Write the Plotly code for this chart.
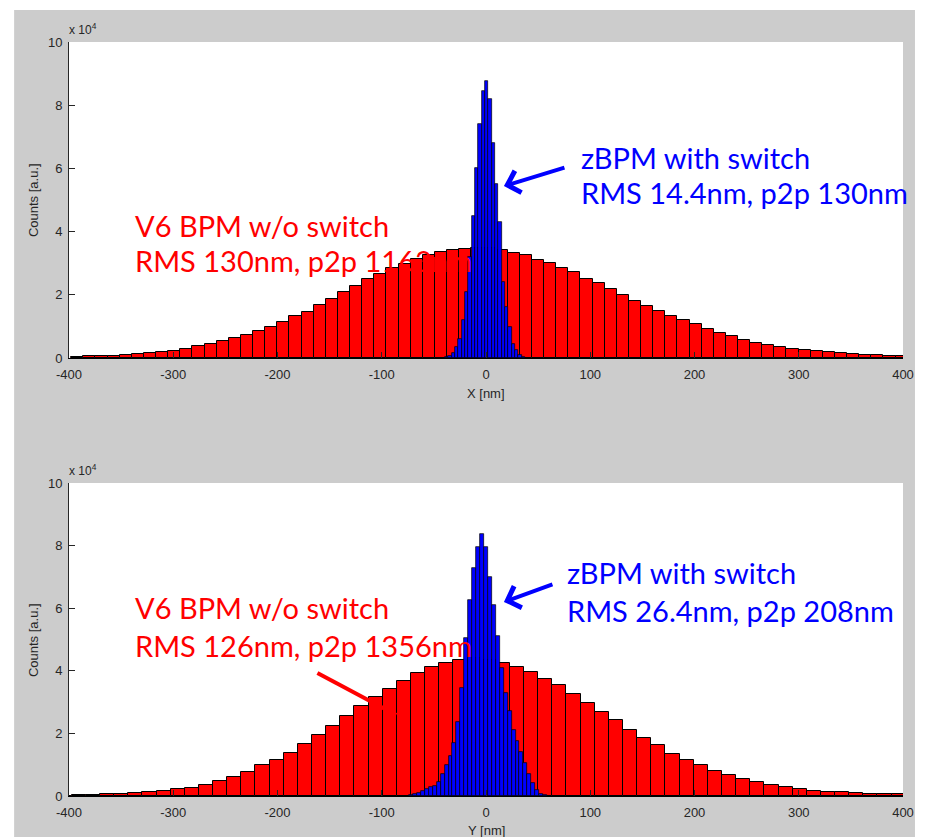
import plotly.graph_objects as go

# ---------------- data ----------------
# Top panel (X): V6 BPM red histogram, bin width 11.63 nm, first bin starts at -397.9 nm
red_x_start = -397.93
red_x_width = 11.63
red_x_counts = [200, 500, 500, 600, 850, 1150, 1570, 1900, 2200, 2940, 3670, 4300, 5240, 6290,
                7230, 8600, 9800, 11500, 13200, 14600, 16900, 18600, 21000, 22700, 25000, 26700,
                28500, 29600, 31400, 32700, 33400, 34300, 34600, 34800, 34700, 34300, 33200,
                32500, 31100, 30000, 28500, 27100, 25100, 23700, 21700, 19800, 17900, 16400,
                14800, 13300, 11900, 10700, 9300, 7900, 7000, 5800, 4850, 4200, 3500, 2700,
                2400, 2100, 1800, 1500, 1270, 840, 840, 530, 500]

# Top panel (X): zBPM blue histogram, bin width 3.2 nm
blue_x_start = -39.36
blue_x_width = 3.2
blue_x_counts = [300, 700, 1500, 3500, 6000, 12000, 21000, 32000, 45000, 60000, 74000, 84500,
                 87600, 82000, 68000, 55000, 43000, 24000, 16000, 9800, 4500, 2400, 800, 200]

# Bottom panel (Y): V6 BPM red histogram, bin width 13.56 nm
red_y_start = -410.98
red_y_width = 13.56
red_y_counts = [100, 250, 250, 640, 640, 850, 1280, 1600, 2240, 2560, 3600, 4650, 6100, 7800,
                9800, 11500, 13800, 16600, 19400, 22400, 25600, 28800, 31600, 34300, 36700,
                39400, 41100, 42400, 43500, 44000, 43600, 42400, 41300, 39700, 37500, 35400,
                32700, 29800, 26900, 24200, 21100, 18600, 16200, 13500, 11500, 9800, 8000,
                6600, 5400, 4500, 3500, 2800, 2100, 1700, 1400, 1200, 1100, 750, 750, 530]

# Bottom panel (Y): zBPM blue histogram, bin width 3.78 nm
blue_y_start = -77.51
blue_y_width = 3.78
blue_y_counts = [100, 300, 500, 1000, 1500, 2200, 2900, 3300, 4400, 7000, 9800, 12900, 16900,
                 23500, 34500, 50500, 62700, 72800, 79600, 83700, 79600, 70000, 61000, 51000,
                 41000, 33000, 27000, 21000, 17500, 14000, 10500, 7000, 4000, 2000, 800, 200]

x_ticks = [-400, -300, -200, -100, 0, 100, 200, 300, 400]
x_tick_text = ["-400", "-300", "-200", "-100", "0", "100", "200", "300", "400"]
y_ticks = [0, 20000, 40000, 60000, 80000, 100000]
y_tick_text = ["0", "2", "4", "6", "8", "10"]


def centers(start, width, n):
    return [start + width * (i + 0.5) for i in range(n)]


RED = "#ff0000"
BLUE = "#0000ff"
TXT = "#262626"
TICKFONT = dict(family="Liberation Sans, Arial, sans-serif", size=13, color=TXT)
ANNFONT = "Lato, Calibri, sans-serif"

fig = go.Figure()

fig.add_trace(go.Bar(x=centers(red_x_start, red_x_width, len(red_x_counts)), y=red_x_counts,
                     width=red_x_width, marker=dict(color=RED, line=dict(color="black", width=1)),
                     xaxis="x", yaxis="y", showlegend=False))
fig.add_trace(go.Bar(x=centers(blue_x_start, blue_x_width, len(blue_x_counts)), y=blue_x_counts,
                     width=blue_x_width, marker=dict(color=BLUE, line=dict(color="black", width=0.7)),
                     xaxis="x", yaxis="y", showlegend=False))
fig.add_trace(go.Bar(x=centers(red_y_start, red_y_width, len(red_y_counts)), y=red_y_counts,
                     width=red_y_width, marker=dict(color=RED, line=dict(color="black", width=1)),
                     xaxis="x2", yaxis="y2", showlegend=False))
fig.add_trace(go.Bar(x=centers(blue_y_start, blue_y_width, len(blue_y_counts)), y=blue_y_counts,
                     width=blue_y_width, marker=dict(color=BLUE, line=dict(color="black", width=0.7)),
                     xaxis="x2", yaxis="y2", showlegend=False))

xcommon = dict(range=[-400, 400], tickvals=x_ticks, ticktext=x_tick_text, ticks="inside",
               ticklen=6, tickcolor=TXT, showline=True, linecolor="black", linewidth=1,
               showgrid=False, zeroline=False, tickfont=TICKFONT, ticklabelstandoff=4,
               fixedrange=True)
ycommon = dict(range=[0, 100000], tickvals=y_ticks, ticktext=y_tick_text, ticks="inside",
               ticklen=6, tickcolor=TXT, showline=True, linecolor=TXT, linewidth=1,
               showgrid=False, zeroline=False, tickfont=TICKFONT, ticklabelstandoff=3,
               fixedrange=True)

# The page body has an 8px margin, so the figure starts at page (8, 8).
OFF = 8
W, H = 926 - OFF, 837 - OFF
L, R, T, B = 69 - OFF, 926 - 905, 42 - OFF, 837 - 796


def py(p):  # page pixel y -> paper y
    return (796 - p) / (796 - 42)


def px(p):  # page pixel x -> paper x
    return (p - 69) / (905 - 69)


fig.update_layout(
    width=W, height=H, autosize=False,
    margin=dict(l=L, r=R, t=T, b=B, pad=0),
    paper_bgcolor="#cccccc", plot_bgcolor="white",
    barmode="overlay", bargap=0,
    xaxis=dict(domain=[0, 1], anchor="y", **xcommon),
    yaxis=dict(domain=[py(358), 1], anchor="x", **ycommon),
    xaxis2=dict(domain=[0, 1], anchor="y2", **xcommon),
    yaxis2=dict(domain=[0, py(483)], anchor="x2", **ycommon),
)

ann = []
ann.append(dict(text="X [nm]", xref="paper", yref="paper", x=px(487), y=py(393),
                xanchor="center", yanchor="middle", showarrow=False, font=TICKFONT))
ann.append(dict(text="Y [nm]", xref="paper", yref="paper", x=px(487), y=py(830),
                xanchor="center", yanchor="middle", showarrow=False, font=TICKFONT))
ann.append(dict(text="Counts [a.u.]", xref="paper", yref="paper", x=px(33), y=py(200),
                xanchor="center", yanchor="middle", textangle=-90, showarrow=False, font=TICKFONT))
ann.append(dict(text="Counts [a.u.]", xref="paper", yref="paper", x=px(33), y=py(640),
                xanchor="center", yanchor="middle", textangle=-90, showarrow=False, font=TICKFONT))
# x 10^4 exponent labels
for ytop in (39, 480):
    ann.append(dict(text="x 10<sup>4</sup>", xref="paper", yref="paper", x=px(67), y=py(ytop),
                    xanchor="left", yanchor="bottom", showarrow=False,
                    font=dict(family=TICKFONT["family"], size=12, color=TXT)))

# text labels
labels = [
    ("zBPM with switch", 583, 157, BLUE),
    ("RMS 14.4nm, p2p 130nm", 583, 192, BLUE),
    ("V6 BPM w/o switch", 136, 225, RED),
    ("RMS 130nm, p2p 1163nm", 136, 260, RED),
    ("zBPM with switch", 569, 572, BLUE),
    ("RMS 26.4nm, p2p 208nm", 569, 610, BLUE),
    ("V6 BPM w/o switch", 136, 607, RED),
    ("RMS 126nm, p2p 1356nm", 136, 645, RED),
]
for t, x0, y0, c in labels:
    ann.append(dict(text=t, xref="paper", yref="paper", x=px(x0 - 3), y=py(y0),
                    xanchor="left", yanchor="middle", showarrow=False,
                    font=dict(family=ANNFONT, size=29, color=c)))

# arrows
ann.append(dict(text="", xref="x", yref="y", x=17.2, y=54400, ax=62, ay=-19,
                showarrow=True, arrowhead=4, arrowsize=1.1, arrowwidth=4, arrowcolor=BLUE))
ann.append(dict(text="", xref="x2", yref="y2", x=17.2, y=62000, ax=50, ay=-18,
                showarrow=True, arrowhead=4, arrowsize=1.1, arrowwidth=4, arrowcolor=BLUE))
fig.update_layout(annotations=ann)

shapes = [
    dict(type="line", xref="x2", yref="y2", x0=-161.7, y0=39300, x1=-86.1, y1=25900,
         line=dict(color=RED, width=4), layer="above"),
    # white page border around the grey figure
    dict(type="rect", xref="paper", yref="paper", x0=px(-5), x1=px(W + 20), y0=py(10), y1=py(-5),
         fillcolor="white", line=dict(width=0), layer="above"),
    dict(type="rect", xref="paper", yref="paper", x0=px(-5), x1=px(14), y0=py(H + 20), y1=py(-5),
         fillcolor="white", line=dict(width=0), layer="above"),
    dict(type="rect", xref="paper", yref="paper", x0=px(917), x1=px(940), y0=py(H + 20), y1=py(-5),
         fillcolor="white", line=dict(width=0), layer="above"),
]
fig.update_layout(shapes=shapes)

fig.write_html("out.html")
